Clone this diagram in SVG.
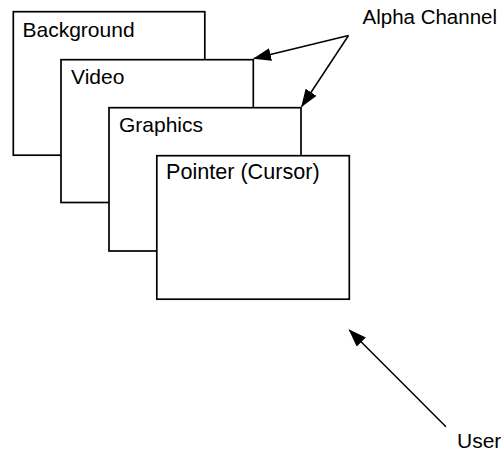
<svg xmlns="http://www.w3.org/2000/svg" width="501" height="453" viewBox="0 0 501 453">
<style>
.layer{fill:#fff;stroke:#000;stroke-width:1.7}
.lbl{font-family:"Liberation Sans",Arial,sans-serif;font-size:21px;fill:#000}
.note{font-size:20.5px}
.conn{stroke:#000;stroke-width:1.5;fill:none}
</style>
<defs>
<marker id="ah" viewBox="0 0 18 13" refX="17" refY="6.5" markerWidth="18" markerHeight="13" markerUnits="userSpaceOnUse" orient="auto">
<path d="M0,0 L18,6.5 L0,13 Z" fill="#000"/>
</marker>
</defs>
<rect width="501" height="453" fill="#fff"/>
<g id="background">
<rect class="layer" x="13.3" y="11.7" width="191.5" height="143.5"/>
<text class="lbl" x="22.5" y="36.5">Background</text>
</g>
<g id="video">
<rect class="layer" x="61" y="59.7" width="192.3" height="142.8"/>
<text class="lbl" x="71" y="84.3">Video</text>
</g>
<g id="graphics">
<rect class="layer" x="109" y="107.7" width="192" height="143.3"/>
<text class="lbl" x="119" y="132.3">Graphics</text>
</g>
<g id="pointer">
<rect class="layer" x="156.8" y="155.7" width="192.5" height="143.5"/>
<text class="lbl" x="166" y="179.3" style="font-size:21.6px">Pointer (Cursor)</text>
</g>
<g id="alpha-label">
<text class="lbl note" x="362.5" y="23.5">Alpha Channel</text>
</g>
<g id="user-label">
<text class="lbl" x="457" y="448.3">User</text>
</g>
<g id="connectors">
<line class="conn" x1="348.5" y1="35.5" x2="254" y2="58.5" marker-end="url(#ah)"/>
<line class="conn" x1="348.5" y1="35.5" x2="301.7" y2="106.5" marker-end="url(#ah)"/>
<line class="conn" x1="446" y1="426.7" x2="349.3" y2="330" marker-end="url(#ah)"/>
</g>
</svg>
